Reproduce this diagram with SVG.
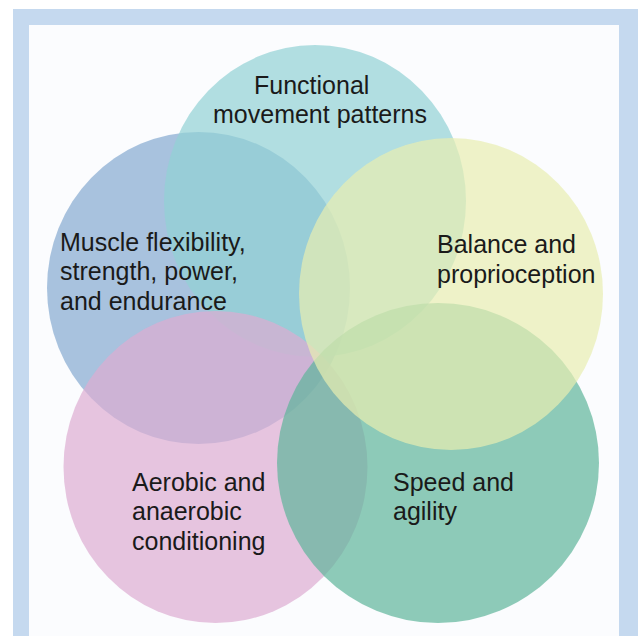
<svg xmlns="http://www.w3.org/2000/svg" width="638" height="636" viewBox="0 0 638 636">
  <style>
    .c { fill-opacity: 0.7; stroke: none; }
    .teal { fill: #91d1d4; }
    .blue { fill: #84a9d0; }
    .yellow { fill: #e8eeb0; }
    .green { fill: #5eb59a; }
    .pink { fill: #ddacd1; }
    .lbl { font-family: "Liberation Sans", Arial, sans-serif; font-size: 25px; fill: #1a1a1a; }
  </style>
  <rect x="0" y="0" width="638" height="636" fill="#ffffff"/>
  <rect x="13" y="9" width="625" height="627" fill="#c5d9ef"/>
  <rect x="29" y="25" width="590" height="611" fill="#fbfcfe"/>

  <g id="node-muscle" class="node">
    <ellipse class="c blue" cx="198.5" cy="288" rx="151.5" ry="156"/>
  </g>
  <g id="node-functional" class="node">
    <ellipse class="c teal" cx="315" cy="201" rx="151" ry="156"/>
  </g>
  <g id="node-aerobic" class="node">
    <ellipse class="c pink" cx="215.5" cy="467" rx="152" ry="156"/>
  </g>
  <g id="node-speed" class="node">
    <ellipse class="c green" cx="438" cy="463" rx="161" ry="160"/>
  </g>
  <g id="node-balance" class="node">
    <ellipse class="c yellow" cx="451" cy="294" rx="152" ry="156"/>
  </g>

  <g id="connectors"/>

  <g id="labels">
    <text id="label-functional" class="lbl">
      <tspan x="254" y="94">Functional</tspan>
      <tspan x="213" y="123">movement patterns</tspan>
    </text>
    <text id="label-muscle" class="lbl">
      <tspan x="60" y="251">Muscle flexibility,</tspan>
      <tspan x="60" y="280">strength, power,</tspan>
      <tspan x="60" y="310">and endurance</tspan>
    </text>
    <text id="label-balance" class="lbl">
      <tspan x="437" y="253">Balance and</tspan>
      <tspan x="437" y="283">proprioception</tspan>
    </text>
    <text id="label-aerobic" class="lbl">
      <tspan x="132" y="491">Aerobic and</tspan>
      <tspan x="132" y="520">anaerobic</tspan>
      <tspan x="132" y="550">conditioning</tspan>
    </text>
    <text id="label-speed" class="lbl">
      <tspan x="393" y="491">Speed and</tspan>
      <tspan x="393" y="520">agility</tspan>
    </text>
  </g>
</svg>
